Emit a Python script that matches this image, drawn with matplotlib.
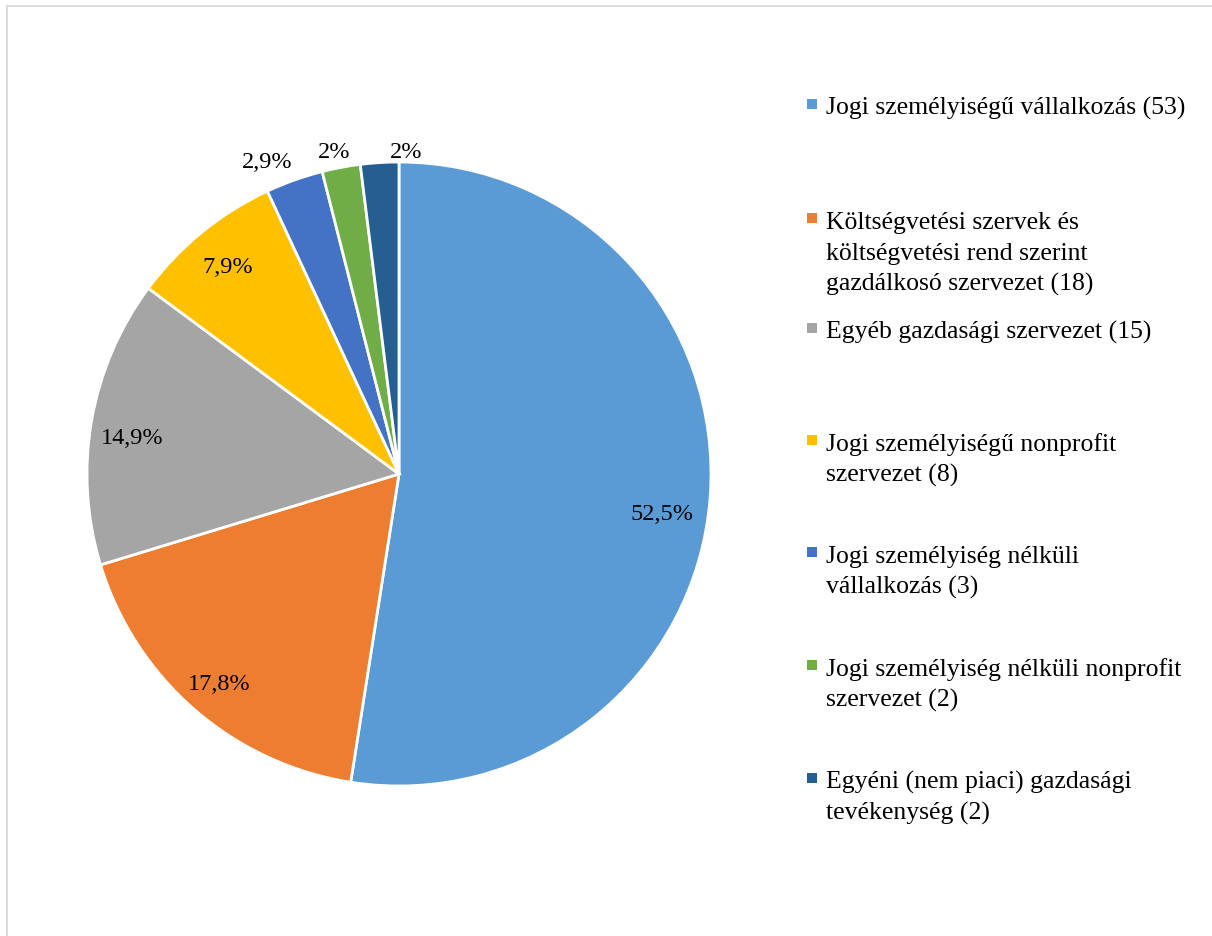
import numpy as np
import matplotlib
matplotlib.use("Agg")
import matplotlib.pyplot as plt
from matplotlib.lines import Line2D
from matplotlib.patches import Rectangle

categories = [
    "Jogi személyiségű vállalkozás (53)",
    "Költségvetési szervek és\nköltségvetési rend szerint\ngazdálkosó szervezet (18)",
    "Egyéb gazdasági szervezet (15)",
    "Jogi személyiségű nonprofit\nszervezet (8)",
    "Jogi személyiség nélküli\nvállalkozás (3)",
    "Jogi személyiség nélküli nonprofit\nszervezet (2)",
    "Egyéni (nem piaci) gazdasági\ntevékenység (2)",
]
counts = [53, 18, 15, 8, 3, 2, 2]
pct_labels = ["52,5%", "17,8%", "14,9%", "7,9%", "2,9%", "2%", "2%"]
colors = ["#5B9BD5", "#ED7D31", "#A5A5A5", "#FFC000", "#4472C4", "#70AD47", "#255E91"]

# label placement (radius fraction, angle nudge in degrees)
label_r = [0.85, 0.88, 0.865, 0.87, 1.095, 1.062, 1.042]
label_nudge = [-3.5, 0, 1.5, 0, 3.1, 0.6, -4.8]
legend_base = [115, 229, 339, 451, 563, 676, 789]   # first-line baselines (px from top)
LINE_H = 31

FONT = "Liberation Serif"
FS_LEG = 18.5
FS_PCT = 17.5

W, H = 1212, 937
fig = plt.figure(figsize=(W / 100, H / 100), dpi=100)

# frame lines (light gray)
fig.add_artist(Line2D([7 / W, 7 / W], [0, 1 - 6.5 / H], transform=fig.transFigure,
                      color="#D9D9D9", lw=1.3))
fig.add_artist(Line2D([7 / W, 1], [1 - 6.5 / H, 1 - 6.5 / H], transform=fig.transFigure,
                      color="#D9D9D9", lw=1.3))

cx, cy, R = 399, 475, 312
ax = fig.add_axes([(cx - R) / W, (H - cy - R) / H, 2 * R / W, 2 * R / H])
wedges, _ = ax.pie(counts, colors=colors, startangle=90, counterclock=False, radius=1,
                   wedgeprops=dict(edgecolor="white", linewidth=2.0))
ax.set_xlim(-1, 1)
ax.set_ylim(-1, 1)
ax.set_aspect("equal")
ax.axis("off")

for w, lab, rf, nd in zip(wedges, pct_labels, label_r, label_nudge):
    ang = np.deg2rad((w.theta1 + w.theta2) / 2 + nd)
    ax.text(rf * np.cos(ang), rf * np.sin(ang), lab, ha="center", va="center_baseline",
            fontsize=FS_PCT, family=FONT, color="black", clip_on=False)

# legend
for cat, col, yb in zip(categories, colors, legend_base):
    fig.add_artist(Rectangle((807 / W, 1 - (yb - 5) / H), 9.5 / W, 10 / H,
                             transform=fig.transFigure, facecolor=col, edgecolor="none"))
    for i, line in enumerate(cat.split("\n")):
        fig.text(826 / W, 1 - (yb + i * LINE_H) / H, line, ha="left", va="baseline",
                 fontsize=FS_LEG, family=FONT, color="black")

fig.savefig("out.png", dpi=100, facecolor="white")
